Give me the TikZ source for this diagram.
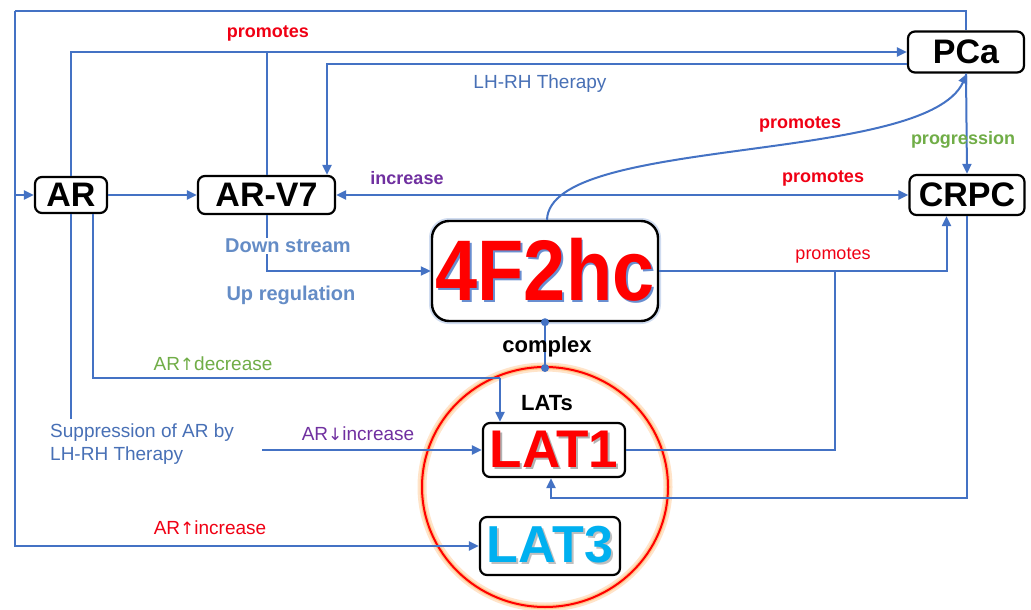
\documentclass[tikz,border=0pt]{standalone}
\usepackage{fontspec}
\setmainfont{Liberation Sans}
\newfontfamily\dv{DejaVu Sans}
\usetikzlibrary{arrows.meta}
\definecolor{lblue}{RGB}{68,114,196}
\definecolor{tblue}{RGB}{72,112,182}
\definecolor{dsblue}{RGB}{100,140,198}
\definecolor{pred}{RGB}{240,0,20}
\definecolor{pgreen}{RGB}{112,173,71}
\definecolor{ppurple}{RGB}{112,48,160}
\definecolor{cyanlat}{RGB}{0,176,240}
\newcommand\shtext[3]{\makebox[0pt][l]{\hspace{2pt}\raisebox{-2pt}{\textcolor{#1}{#3}}}\textcolor{#2}{#3}}
\newcommand\fs[1]{\fontsize{#1}{#1}\selectfont}
\begin{document}
\begin{tikzpicture}[x=1pt,y=-1pt,
  box/.style={draw=black, line width=2.2pt, rounded corners=7pt, fill=white, inner sep=0pt, font=\fs{34}\bfseries},
  arr/.style={draw=lblue, line width=2pt, -{Triangle[length=10pt,width=9pt]}},
  arrb/.style={draw=lblue, line width=2pt, {Triangle[length=10pt,width=9pt]}-{Triangle[length=10pt,width=9pt]}},
  ln/.style={draw=lblue, line width=2pt},
  lab/.style={inner sep=1pt, font=\fs{18}\bfseries},
  labr/.style={inner sep=1pt, font=\fs{19}},
  dot/.style={circle, fill=lblue, inner sep=0pt, minimum size=8pt}]
\useasboundingbox (0,0) rectangle (1031,610);
\fill[white] (0,0) rectangle (1031,610);

% LATs circle with glow
\draw[orange!35, line width=9pt, opacity=0.6] (545,487) ellipse (123 and 120);
\draw[orange!60, line width=4.5pt, opacity=0.6] (545,487) ellipse (123 and 120);
\draw[red, line width=2pt] (545,487) ellipse (123 and 120);

% nodes
\node[box, minimum width=72pt, minimum height=36pt] (AR) at (71,195) {AR};
\node[box, minimum width=137pt, minimum height=38pt] (ARV7) at (266.5,195) {AR-V7};
\node[box, minimum width=116pt, minimum height=41pt] (PCa) at (966,52) {PCa};
\node[box, minimum width=115pt, minimum height=40pt] (CRPC) at (967,195) {CRPC};
\draw[lblue!25, line width=6pt, rounded corners=17pt] (432,221) rectangle (658,321);
\node[box, rounded corners=17pt, line width=2.4pt, minimum width=226pt, minimum height=100pt, font=\fs{86}\bfseries] (F) at (545,271) {\scalebox{0.88}[1]{\shtext{lblue!80}{red}{4F2hc}}};
\node[box, minimum width=142pt, minimum height=54pt, font=\fs{53}\bfseries] (LAT1) at (554,450) {\shtext{gray!60}{red}{LAT1}};
\node[box, minimum width=140pt, minimum height=58pt, font=\fs{52}\bfseries] (LAT3) at (550,546) {\shtext{gray!50}{cyanlat}{LAT3}};

% coordinates
\coordinate (tl) at (15,11);
\coordinate (j1) at (835,271);
\coordinate (ct) at (545,368);
\coordinate (k) at (500,378);
\coordinate (s1) at (262,450);

% PCa -> AR, LAT3
\draw[ln] (PCa.north) |- (tl);
\draw[arr] (tl) |- (LAT3.west);
\draw[arr] (tl |- AR.west) -- (AR.west);

% AR, AR-V7 -> PCa (promotes)
\draw[arr] (AR.north) |- (PCa.west);
\draw[ln] (ARV7.north) -- (ARV7.north |- PCa.west);
% LH-RH therapy: PCa -> AR-V7
\draw[arr] ([yshift=-12pt]PCa.west) -| ([xshift=60.5pt]ARV7.north);
% AR -> AR-V7
\draw[arr] (AR.east) -- (ARV7.west);
% AR-V7 <-> CRPC
\draw[arrb] (ARV7.east) -- (CRPC.west);
% PCa -> CRPC
\draw[arr] (PCa.south) -- (CRPC.north);
% 4F2hc -> PCa curve
\draw[arr] ([xshift=2pt]F.north) .. controls (550,135) and (925,165) .. ([xshift=1pt]PCa.south);
% AR-V7 -> 4F2hc
\draw[arr] (ARV7.south) |- (F.west);
% 4F2hc -> CRPC
\draw[arr] (F.east) -| ([xshift=-20.5pt]CRPC.south);
% LAT1 -> join
\draw[ln] (LAT1.east) -| (j1);
% CRPC -> LAT1
\draw[arr] (CRPC.south) |- ([xshift=-3pt,yshift=-20pt]LAT1.south) -- ([xshift=-3pt]LAT1.south);
% complex
\draw[ln] (F.south) -- (ct);
\node[dot] (d1) at (F.south) {};
\node[dot] (d2) at (ct) {};
% AR -> LATs (AR up decrease)
\draw[ln] ([xshift=22pt]AR.south) |- (k);
\draw[arr] (k) -- (k |- LAT1.north);
% Suppression
\node[labr, text=tblue, align=left, anchor=north west, font=\fontsize{19}{23}\selectfont] (supp) at (49,423) {Suppression of AR by\\LH-RH Therapy};
\draw[ln] (AR.south) -- (AR.south |- 0,419);
\draw[arr] (s1) -- (LAT1.west);

% labels
\node[lab, text=pred] (t1) at (268,33) {promotes};
\node[labr, text=tblue] (t2) at (540,84) {LH-RH Therapy};
\node[lab, text=pred] (t3) at (800,124) {promotes};
\node[lab, text=ppurple] (t4) at (407,178) {increase};
\node[lab, text=pred] (t5) at (823,178) {promotes};
\node[lab, text=pgreen] (t6) at (963,140) {progression};
\node[lab, text=dsblue, fill=white, font=\fs{20}\bfseries] (t7) at (288,246) {Down stream};
\node[lab, text=dsblue, font=\fs{20}\bfseries] (t8) at (291,295) {Up regulation};
\node[labr, text=pred, font=\fs{18}] (t9) at (833,256) {promotes};
\node[lab, text=black, font=\fs{22}\bfseries] (t10) at (547,347) {complex};
\node[labr, text=pgreen] (t11) at (213,364) {AR{\dv\fs{17}↑}decrease};
\node[lab, text=black, font=\fs{22}\bfseries] (t12) at (547,403) {LATs};
\node[labr, text=ppurple] (t13) at (358,434) {AR{\dv\fs{17}↓}increase};
\node[labr, text=pred] (t14) at (210,528) {AR{\dv\fs{17}↑}increase};
\end{tikzpicture}
\end{document}
